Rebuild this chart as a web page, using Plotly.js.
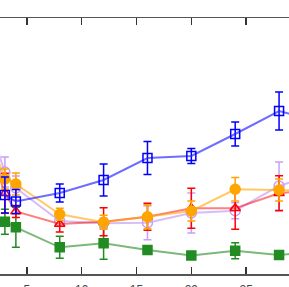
<!DOCTYPE html>
<html>
<head>
<meta charset="utf-8">
<script src="https://cdn.plot.ly/plotly-3.0.1.min.js"></script>
<style>
html,body{margin:0;padding:0;overflow:hidden;background:#fff;width:289px;height:287px;}
#chart{position:absolute;left:-67.75px;top:0;width:408.5px;height:287px;}
</style>
</head>
<body>
<div id="chart"></div>
<script>
const xValues = [2, 3, 4, 8, 12, 16, 20, 24, 28, 32];

const blueY   = [0.82, 0.79, 0.725, 0.81, 0.94, 1.16, 1.18, 1.40, 1.63, 1.515];
const blueErr = [0.15, 0.18, 0.12, 0.09, 0.16, 0.165, 0.075, 0.12, 0.19, 0.15];

const purpleY   = [1.34, 1.02, 0.86, 0.53, 0.507, 0.513, 0.61, 0.633, 0.88, 1.025];
const purpleErr = [0.15, 0.15, 0.12, 0.05, 0.05, 0.17, 0.20, 0.08, 0.24, 0.15];

const redY   = [1.13, 0.807, 0.625, 0.50, 0.523, 0.573, 0.657, 0.657, 0.807, 0.85];
const redErr = [0.15, 0.20, 0.06, 0.08, 0.14, 0.135, 0.20, 0.21, 0.175, 0.15];

const orangeY   = [1.25, 0.95, 0.90, 0.597, 0.517, 0.573, 0.63, 0.847, 0.84, 0.83];
const orangeErr = [0.10, 0.10, 0.11, 0.06, 0.07, 0.12, 0.10, 0.117, 0.11, 0.10];

const greenY   = [0.56, 0.523, 0.467, 0.267, 0.307, 0.24, 0.185, 0.233, 0.19, 0.23];
const greenErr = [0.10, 0.125, 0.20, 0.11, 0.16, 0.03, 0.02, 0.08, 0.02, 0.05];

const xTicks = [0, 5, 10, 15, 20, 25, 30];

function series(y, err, color, lineColor, symbol, size) {
  return {
    type: 'scatter', mode: 'lines+markers', x: xValues, y: y,
    line: {color: lineColor, width: 2},
    marker: {color: color, symbol: symbol, size: size, line: {color: color, width: 1.5}},
    error_y: {type: 'data', array: err, visible: true, color: color, thickness: 1.5, width: 4},
    cliponaxis: false, showlegend: false
  };
}

const data = [
  series(greenY, greenErr, '#228b22', 'rgba(34,139,34,0.6)', 'square', 9),
  series(purpleY, purpleErr, '#c8a0f5', 'rgba(200,160,245,0.7)', 'circle-open', 10),
  series(redY, redErr, '#ff0000', 'rgba(255,0,0,0.5)', 'triangle-up-open', 9),
  series(orangeY, orangeErr, '#ffa500', 'rgba(255,165,0,0.6)', 'circle', 10),
  series(blueY, blueErr, '#0000ff', 'rgba(30,30,255,0.65)', 'square-open', 9)
];

const layout = {
  width: 408.5, height: 287, autosize: false,
  margin: {l: 40, r: 40, t: 18, b: 13},
  paper_bgcolor: '#fff', plot_bgcolor: '#fff',
  font: {family: 'Liberation Sans, Arial, sans-serif', size: 12, color: '#444'},
  xaxis: {
    range: [0, 30], tickvals: xTicks, showgrid: false, zeroline: false,
    showline: true, mirror: 'ticks', linecolor: '#555', linewidth: 1.5,
    ticks: 'inside', ticklen: 7, tickwidth: 1.5, tickcolor: '#333',
    ticklabelstandoff: 4
  },
  yaxis: {
    range: [0, 2.56], showgrid: false, zeroline: false, showline: false,
    showticklabels: false, ticks: ''
  }
};

Plotly.newPlot('chart', data, layout, {displayModeBar: false, staticPlot: true});
</script>
</body>
</html>
